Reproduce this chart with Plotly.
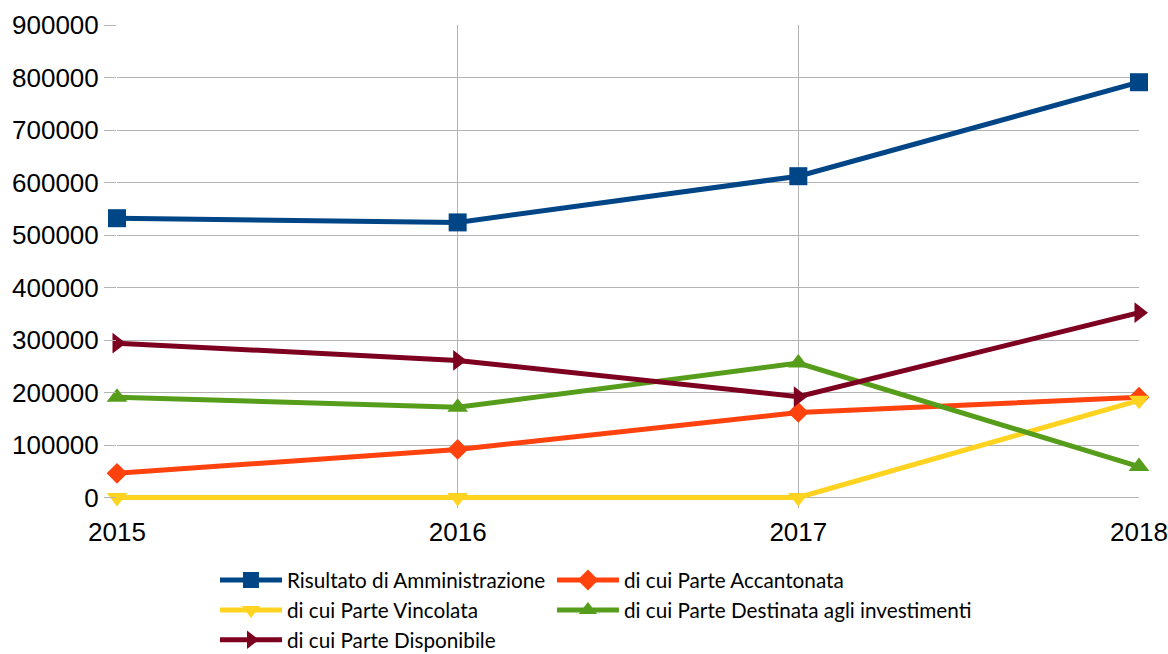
import plotly.graph_objects as go

years = ["2015", "2016", "2017", "2018"]
risultato = [532000, 524000, 612000, 791000]
accantonata = [46000, 91500, 162000, 191000]
vincolata = [0, 0, 0, 185000]
investimenti = [191000, 172000, 256000, 59000]
disponibile = [294000, 261000, 192000, 352000]

names = ["Risultato di Amministrazione", "di cui Parte Accantonata",
         "di cui Parte Vincolata", "di cui Parte Destinata agli investimenti",
         "di cui Parte Disponibile"]
series = [risultato, accantonata, vincolata, investimenti, disponibile]
colors = ["#004586", "#ff420e", "#ffd320", "#579d1c", "#7e0021"]
symbols = ["square", "diamond", "triangle-down", "triangle-up", "triangle-right"]
sizes = [18, 16, 18, 18, 18]
legend_ids = ["legend", "legend2", "legend", "legend2", "legend"]

fig = go.Figure()
for n, s, c, sym, sz, lg in zip(names, series, colors, symbols, sizes, legend_ids):
    fig.add_trace(go.Scatter(
        x=years, y=s, name=n, mode="lines+markers",
        line=dict(color=c, width=5),
        marker=dict(symbol=sym, size=sz, color=c),
        cliponaxis=False, legend=lg,
    ))

legend_font = dict(family="Lato, sans-serif", size=20.7, color="black")
fig.update_layout(
    width=1168, height=654,
    margin=dict(l=117, r=29, t=25, b=146),
    plot_bgcolor="white", paper_bgcolor="white",
    font=dict(family="Liberation Sans, Arial, sans-serif", size=26, color="black"),
    showlegend=True,
    legend=dict(
        orientation="v", xref="paper", x=0.0959, xanchor="left",
        yref="container", y=0.1437, yanchor="top",
        font=legend_font, itemwidth=62, tracegroupgap=0,
        bgcolor="rgba(0,0,0,0)",
    ),
    legend2=dict(
        orientation="v", xref="paper", x=0.4256, xanchor="left",
        yref="container", y=0.1437, yanchor="top",
        font=legend_font, itemwidth=62, tracegroupgap=0,
        bgcolor="rgba(0,0,0,0)",
    ),
)
fig.update_xaxes(
    type="category", range=[0, 3], automargin=False,
    showgrid=True, gridcolor="#b3b3b3", gridwidth=1,
    showline=False, zeroline=False,
    ticks="", ticklabelstandoff=6,
    tickfont=dict(size=26),
)
fig.update_yaxes(
    range=[-20000, 900000], tickvals=[0, 100000, 200000, 300000, 400000,
                                      500000, 600000, 700000, 800000, 900000],
    tickformat="d", automargin=False,
    showgrid=True, gridcolor="#b3b3b3", gridwidth=1,
    zeroline=False, showline=False,
    ticks="outside", ticklen=12, tickcolor="#b3b3b3",
    ticklabelstandoff=0,
    tickfont=dict(size=26),
)

fig.write_html(
    "out.html",
    config={"displayModeBar": False},
    post_script="document.body.style.margin='0';document.body.style.overflow='hidden';",
)
